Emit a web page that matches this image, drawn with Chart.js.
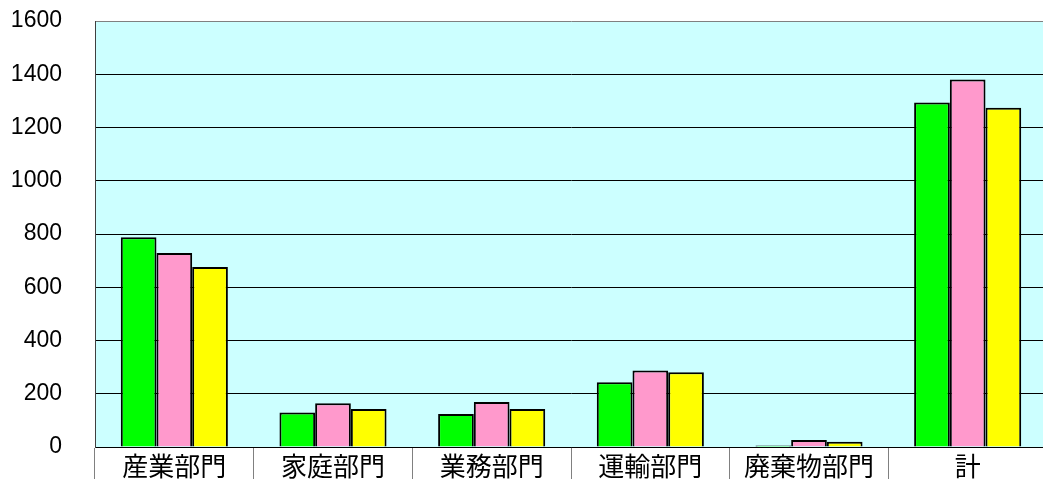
<!DOCTYPE html>
<html>
<head>
<meta charset="utf-8">
<script src="https://cdn.jsdelivr.net/npm/chart.js@4/dist/chart.umd.min.js"></script>
<style>
  html, body { margin: 0; padding: 0; background: #fff; overflow: hidden; }
  #wrap { width: 1047px; height: 479px; }
</style>
</head>
<body>
<div id="wrap"><canvas id="chart" width="1047" height="479"></canvas></div>
<script>
var categories = ["産業部門", "家庭部門", "業務部門", "運輸部門", "廃棄物部門", "計"];
var series1 = [788, 130, 124, 243, 6, 1294];
var series2 = [729, 164, 169, 287, 26, 1380];
var series3 = [676, 143, 143, 281, 20, 1274];
var yTicks = [0, 200, 400, 600, 800, 1000, 1200, 1400, 1600];

// light cyan fill behind the plot area
var plotBackground = {
  id: "plotBackground",
  beforeDraw: function (chart) {
    var a = chart.chartArea;
    var ctx = chart.ctx;
    ctx.save();
    ctx.fillStyle = "#ccffff";
    ctx.fillRect(a.left, a.top, a.right - a.left, a.bottom - a.top);
    ctx.restore();
  }
};

function barSet(label, values, color) {
  return {
    label: label,
    data: values,
    backgroundColor: color,
    borderColor: "#000000",
    borderWidth: 2,
    categoryPercentage: 0.675,
    barPercentage: 1.0
  };
}

var chart = new Chart(document.getElementById("chart"), {
  type: "bar",
  data: {
    labels: categories,
    datasets: [
      barSet("系列1", series1, "#00ff00"),
      barSet("系列2", series2, "#ff99cc"),
      barSet("系列3", series3, "#ffff00")
    ]
  },
  options: {
    responsive: false,
    animation: false,
    layout: { padding: { top: 21, right: 0, bottom: 0, left: 0 } },
    plugins: {
      legend: { display: false },
      tooltip: { enabled: false }
    },
    scales: {
      x: {
        offset: true,
        grid: {
          display: true,
          offset: true,
          drawOnChartArea: false,
          drawTicks: true,
          tickLength: 32,
          color: "#808080",
          lineWidth: 1
        },
        border: { display: true, color: "#000000", width: 1 },
        ticks: {
          padding: -28,
          color: "#000000",
          font: { family: "'Noto Sans CJK JP'", size: 26 }
        },
        afterFit: function (scale) {
          scale.height = 32;
          scale.paddingLeft = 0;
          scale.paddingRight = 0;
        }
      },
      y: {
        min: 0,
        max: 1600,
        afterBuildTicks: function (scale) {
          scale.ticks = yTicks.map(function (v) { return { value: v }; });
        },
        grid: {
          drawTicks: false,
          color: function (c) { return c.tick && c.tick.value === 1600 ? "#808080" : "#000000"; },
          lineWidth: 1
        },
        border: { display: true, color: "#404040", width: 1 },
        ticks: {
          padding: 33,
          color: "#000000",
          font: { family: "'Liberation Sans', Arial, sans-serif", size: 23 },
          callback: function (v) { return String(v); }
        },
        afterFit: function (scale) {
          scale.width = 95;
          scale.paddingTop = 0;
          scale.paddingBottom = 0;
        }
      }
    }
  },
  plugins: [plotBackground]
});
</script>
</body>
</html>
